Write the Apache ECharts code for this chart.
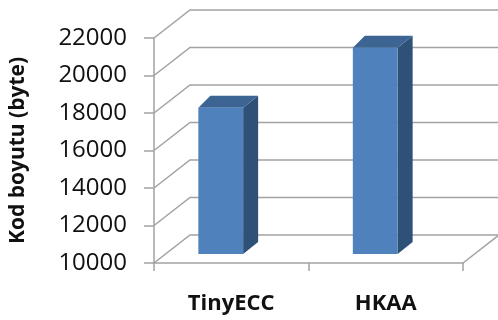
<!DOCTYPE html>
<html>
<head>
<meta charset="utf-8">
<script src="https://cdn.jsdelivr.net/npm/echarts@6/dist/echarts.min.js"></script>
<style>
  html, body { margin: 0; padding: 0; background: #ffffff; }
  #chart { width: 498px; height: 320px; }
</style>
</head>
<body>
<div id="chart"></div>
<script>
// Code size per implementation
const categories = ['TinyECC', 'HKAA'];
const codeSize = [17800, 21000];
const yTicks = [10000, 12000, 14000, 16000, 18000, 20000, 22000];
const yTitle = 'Kod boyutu (byte)';

// Oblique projection used for the walls, floor and bar depth
const WALL_DX = 36, WALL_DY = -28;
const BAR_LIFT = 9;            // bars stand slightly behind the front edge
const BAR_DX_L = 12, BAR_DX_R = 15, BAR_DY = -12;

const GRID_COLOR = '#a2a2a2';
const FRONT = '#4f81bd', TOP = '#3c6594', SIDE = '#2f5178';

const chart = echarts.init(document.getElementById('chart'), null, { renderer: 'canvas' });

function renderWalls(params, api) {
  const cs = params.coordSys;
  const v = api.value(1);
  const y = api.coord([0, v])[1];
  const x0 = cs.x;
  const xRight = cs.x + cs.width;
  const children = [{
    type: 'polyline',
    shape: { points: [[x0, y], [x0 + WALL_DX, y + WALL_DY], [xRight + WALL_DX, y + WALL_DY]] },
    style: { stroke: GRID_COLOR, lineWidth: 1.5, fill: null }
  }];
  if (v === yTicks[0]) {
    children.push({
      type: 'line',
      shape: { x1: xRight, y1: y, x2: xRight + WALL_DX, y2: y + WALL_DY },
      style: { stroke: GRID_COLOR, lineWidth: 1.5 }
    });
  }
  return { type: 'group', children };
}

function renderBar(params, api) {
  const idx = api.value(0);
  const v = api.value(1);
  const top = api.coord([idx, v]);
  const base = api.coord([idx, yTicks[0]]);
  const band = api.size([1, 0])[0];
  const w = band * 0.29;
  const cx = top[0] - band * 0.068;
  const x0 = cx - w / 2, x1 = cx + w / 2;
  const yT = top[1] - BAR_LIFT, yB = base[1] - BAR_LIFT;
  return {
    type: 'group',
    children: [
      { type: 'polygon', shape: { points: [[x1, yT], [x1 + BAR_DX_R, yT + BAR_DY], [x1 + BAR_DX_R, yB + BAR_DY], [x1, yB]] },
        style: { fill: SIDE } },
      { type: 'polygon', shape: { points: [[x0, yT], [x1, yT], [x1 + BAR_DX_R, yT + BAR_DY], [x0 + BAR_DX_L, yT + BAR_DY]] },
        style: { fill: TOP } },
      { type: 'rect', shape: { x: x0, y: yT, width: w, height: yB - yT },
        style: { fill: FRONT } }
    ]
  };
}

chart.setOption({
  animation: false,
  backgroundColor: '#ffffff',
  grid: { left: 152, right: 35, top: 38, bottom: 57, containLabel: false },
  xAxis: {
    type: 'category',
    data: categories,
    axisLine: { lineStyle: { color: GRID_COLOR, width: 1.5 } },
    axisTick: { show: true, length: 8, lineStyle: { color: GRID_COLOR, width: 1.5 } },
    axisLabel: { fontFamily: 'Open Sans', fontWeight: 'bold', fontSize: 22, color: '#111', margin: 30 },
    splitLine: { show: false }
  },
  yAxis: {
    type: 'value',
    min: 10000, max: 22000, interval: 2000,
    name: yTitle,
    nameLocation: 'middle',
    nameGap: 125,
    nameTextStyle: { fontFamily: 'Open Sans', fontWeight: 'bold', fontSize: 21, color: '#111' },
    axisLine: { show: true, lineStyle: { color: GRID_COLOR, width: 1.5 } },
    axisTick: { show: true, length: 10, lineStyle: { color: GRID_COLOR, width: 1.5 } },
    axisLabel: {
      fontFamily: 'Open Sans', fontSize: 24, color: '#111', margin: 27,
      formatter: value => String(value)
    },
    splitLine: { show: false }
  },
  series: [
    {
      type: 'custom',
      renderItem: renderWalls,
      data: yTicks.map(v => [0, v]),
      encode: { x: 0, y: 1 },
      z: 1,
      silent: true
    },
    {
      type: 'custom',
      renderItem: renderBar,
      data: codeSize.map((v, i) => [i, v]),
      encode: { x: 0, y: 1 },
      z: 2
    }
  ]
});
</script>
</body>
</html>
